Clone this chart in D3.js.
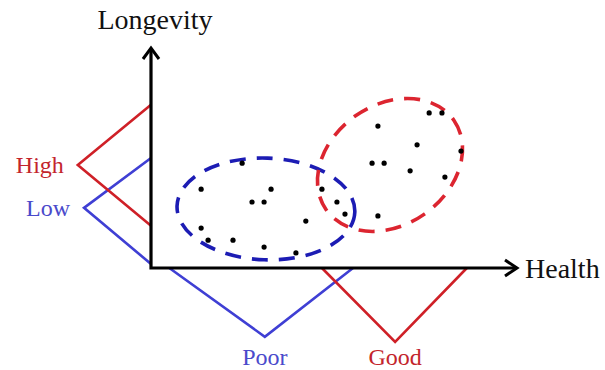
<!DOCTYPE html>
<html>
<head>
<meta charset="utf-8">
<script src="https://cdn.jsdelivr.net/npm/d3@7"></script>
<style>
  body { margin: 0; background: #fff; }
</style>
</head>
<body>
<svg></svg>
<script>
// Canvas size
const width = 605, height = 370;
const svg = d3.select("svg").attr("width", width).attr("height", height);
const serif = "'Liberation Serif', 'Times New Roman', Times, 'DejaVu Serif', serif";

// Axis titles
const axisTitles = ["Health", "Longevity"];

// Triangular profiles along the axes: [start, peak, end], depth of the peak
const healthLabels = ["Poor", "Good"];
const healthRanges = [[0.5, 3.11, 5.52], [4.67, 6.67, 8.63]];
const healthDepth = [1.88, 2.02];

const longevityLabels = ["Low", "High"];
const longevityRanges = [[0.11, 1.64, 3.0], [1.15, 2.81, 4.45]];
const longevityDepth = [1.83, 2.0];

// Group ellipses: centre x, centre y, radius x, radius y, rotation (deg)
const groupNames = ["poor-low", "good-high"];
const groupCx = [3.14, 6.53];
const groupCy = [1.61, 2.81];
const groupRx = [2.43, 2.13];
const groupRy = [1.39, 1.64];
const groupRotate = [2, -35];

// Scattered observations (health, longevity)
const pointsX = [2.49, 1.37, 3.28, 2.76, 3.09, 1.37, 1.56, 2.24, 3.09, 3.96, 4.23,
                 4.67, 5.08, 5.30,
                 7.60, 7.95, 6.20, 7.27, 8.47, 6.04, 6.37, 7.08, 8.03, 6.20];
const pointsY = [2.86, 2.15, 2.15, 1.80, 1.80, 1.09, 0.76, 0.76, 0.57, 0.41, 1.28,
                 2.15, 1.80, 1.47,
                 4.23, 4.23, 3.87, 3.36, 3.19, 2.86, 2.86, 2.65, 2.48, 1.42];

// Colours
const lineColors = ["#3f3fd4", "#cf2027"];
const labelColors = ["#4a4acb", "#c3242c"];
const ellipseColors = ["#1c1cb4", "#dc2530"];

// Scales (same pixels per unit on both axes)
const x = d3.scaleLinear().domain([0, 10]).range([151, 517]);
const y = d3.scaleLinear().domain([0, 6]).range([268, 48]);
const unit = x(1) - x(0);

// Longevity profiles (left of the vertical axis)
longevityRanges.forEach((r, i) => {
    const pts = [[x(0), y(r[0])], [x(0) - longevityDepth[i] * unit, y(r[1])], [x(0), y(r[2])]];
    svg.append("path")
        .attr("d", d3.line()(pts))
        .attr("fill", "none")
        .attr("stroke", lineColors[i])
        .attr("stroke-width", 2.6);
    svg.append("text")
        .attr("x", x(0) - longevityDepth[i] * unit - 14)
        .attr("y", y(r[1]))
        .attr("dy", "0.33em")
        .attr("text-anchor", "end")
        .attr("font-family", serif)
        .attr("font-size", 24)
        .attr("fill", labelColors[i])
        .text(longevityLabels[i]);
});

// Health profiles (below the horizontal axis)
healthRanges.forEach((r, i) => {
    const pts = [[x(r[0]), y(0)], [x(r[1]), y(0) + healthDepth[i] * unit], [x(r[2]), y(0)]];
    svg.append("path")
        .attr("d", d3.line()(pts))
        .attr("fill", "none")
        .attr("stroke", lineColors[i])
        .attr("stroke-width", 2.6);
    svg.append("text")
        .attr("x", x(r[1]))
        .attr("y", y(0) + 97)
        .attr("text-anchor", "middle")
        .attr("font-family", serif)
        .attr("font-size", 24)
        .attr("fill", labelColors[i])
        .text(healthLabels[i]);
});

// Dashed group ellipses
groupNames.forEach((g, i) => {
    const cx = x(groupCx[i]), cy = y(groupCy[i]);
    svg.append("ellipse")
        .attr("class", g)
        .attr("cx", cx)
        .attr("cy", cy)
        .attr("rx", groupRx[i] * unit)
        .attr("ry", groupRy[i] * unit)
        .attr("transform", `rotate(${groupRotate[i]},${cx},${cy})`)
        .attr("fill", "none")
        .attr("stroke", ellipseColors[i])
        .attr("stroke-width", 3.6)
        .attr("stroke-dasharray", "16,11");
});

// Points
svg.selectAll("circle.pt")
    .data(pointsX.map((v, i) => [v, pointsY[i]]))
    .enter().append("circle")
    .attr("class", "pt")
    .attr("cx", d => x(d[0]))
    .attr("cy", d => y(d[1]))
    .attr("r", 2.6)
    .attr("fill", "#000");

// Axes with open arrow heads
const axisPath = d3.line()([[x(0), y(6)], [x(0), y(0)], [x(10), y(0)]]);
svg.append("path")
    .attr("d", axisPath)
    .attr("fill", "none")
    .attr("stroke", "#000")
    .attr("stroke-width", 3.2)
    .attr("stroke-linejoin", "miter");

svg.append("path")
    .attr("d", d3.line()([[x(0) - 8, y(6) + 11], [x(0), y(6)], [x(0) + 8, y(6) + 11]]))
    .attr("fill", "none")
    .attr("stroke", "#000")
    .attr("stroke-width", 3)
    .attr("stroke-linejoin", "miter");

svg.append("path")
    .attr("d", d3.line()([[x(10) - 12, y(0) - 8], [x(10), y(0)], [x(10) - 12, y(0) + 8]]))
    .attr("fill", "none")
    .attr("stroke", "#000")
    .attr("stroke-width", 3)
    .attr("stroke-linejoin", "miter");

// Axis titles
svg.append("text")
    .attr("x", x(10) + 8)
    .attr("y", y(0))
    .attr("dy", "0.35em")
    .attr("font-family", serif)
    .attr("font-size", 28)
    .attr("fill", "#111")
    .text(axisTitles[0]);

svg.append("text")
    .attr("x", x(0) + 4)
    .attr("y", 29)
    .attr("text-anchor", "middle")
    .attr("font-family", serif)
    .attr("font-size", 28)
    .attr("fill", "#111")
    .text(axisTitles[1]);
</script>
</body>
</html>
